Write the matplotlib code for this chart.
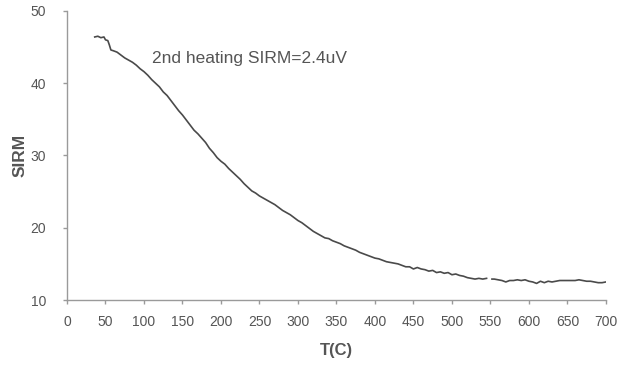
import numpy as np
import matplotlib
matplotlib.use("Agg")
import matplotlib.pyplot as plt

plt.rcParams["font.family"] = ["Liberation Sans", "DejaVu Sans"]

# Temperature (C) and SIRM readings along the heating curve
temperature = [36, 40, 44, 48, 50, 53, 55, 57, 60, 65, 70, 75, 80, 85, 90, 95,
               100, 105, 110, 115, 120, 125, 130, 135, 140, 145, 150, 155, 160,
               165, 170, 175, 180, 185, 190, 195, 200, 205, 210, 215, 220, 225,
               230, 235, 240, 245, 250, 255, 260, 265, 270, 275, 280, 285, 290,
               295, 300, 305, 310, 315, 320, 325, 330, 335, 340, 345, 350, 355,
               360, 365, 370, 375, 380, 385, 390, 395, 400, 405, 410, 415, 420,
               425, 430, 435, 440, 445, 450, 455, 460, 465, 470, 475, 480, 485,
               490, 495, 500, 505, 510, 515, 520, 525, 530, 535, 540, 545, 548,
               552, 555, 560, 565, 570, 575, 580, 585, 590, 595, 600, 605, 610,
               615, 620, 625, 630, 635, 640, 645, 650, 655, 660, 665, 670, 675,
               680, 685, 690, 695, 700]
sirm = [46.4, 46.5, 46.3, 46.4, 46.0, 45.9, 45.3, 44.6, 44.5, 44.3, 43.9, 43.5,
        43.2, 42.9, 42.5, 42.0, 41.6, 41.1, 40.5, 40.0, 39.5, 38.8, 38.3, 37.6,
        36.9, 36.2, 35.6, 34.9, 34.2, 33.5, 33.0, 32.4, 31.8, 31.0, 30.4, 29.7,
        29.2, 28.8, 28.2, 27.7, 27.2, 26.7, 26.1, 25.6, 25.1, 24.8, 24.4, 24.1,
        23.8, 23.5, 23.2, 22.8, 22.4, 22.1, 21.8, 21.4, 21.0, 20.7, 20.3, 19.9,
        19.5, 19.2, 18.9, 18.6, 18.5, 18.2, 18.0, 17.8, 17.5, 17.3, 17.1, 16.9,
        16.6, 16.4, 16.2, 16.0, 15.8, 15.7, 15.5, 15.3, 15.2, 15.1, 15.0, 14.8,
        14.6, 14.6, 14.3, 14.5, 14.3, 14.2, 14.0, 14.1, 13.8, 13.9, 13.7, 13.8,
        13.5, 13.6, 13.4, 13.3, 13.1, 13.0, 12.9, 13.0, 12.9, 13.0, np.nan,
        12.9, 12.9, 12.8, 12.7, 12.5, 12.7, 12.7, 12.8, 12.7, 12.8, 12.6, 12.5,
        12.3, 12.6, 12.4, 12.6, 12.5, 12.6, 12.7, 12.7, 12.7, 12.7, 12.7, 12.8,
        12.7, 12.6, 12.6, 12.5, 12.4, 12.4, 12.5]

x_ticks = list(range(0, 701, 50))
y_ticks = [10, 20, 30, 40, 50]
note = "2nd heating SIRM=2.4uV"

fig = plt.figure(figsize=(6.17, 3.65), dpi=100)
ax = fig.add_axes([0.1086, 0.178, 0.8734, 0.792])

ax.plot(temperature, sirm, color="#4a4a4a", linewidth=1.2)

ax.set_xlim(0, 700)
ax.set_ylim(10, 50)
ax.set_xticks(x_ticks)
ax.set_yticks(y_ticks)

for side in ("top", "right"):
    ax.spines[side].set_visible(False)
for side in ("left", "bottom"):
    ax.spines[side].set_color("#9a9a9a")
    ax.spines[side].set_linewidth(1.0)

ax.tick_params(axis="both", colors="#9a9a9a", labelcolor="#555555",
               labelsize=10, length=3, width=1.0, direction="out")
ax.tick_params(axis="x", pad=8)
ax.tick_params(axis="y", pad=12)

ax.set_xlabel("T(C)", fontsize=12, fontweight="bold", color="#555555",
              labelpad=10)
ax.set_ylabel("SIRM", fontsize=12.5, fontweight="bold", color="#555555")
ax.yaxis.set_label_coords(-0.074, 0.5)

ax.text(110, 43.4, note, fontsize=12.5, color="#555555", va="center",
        ha="left")

fig.savefig("out.png", dpi=100, facecolor="white")
